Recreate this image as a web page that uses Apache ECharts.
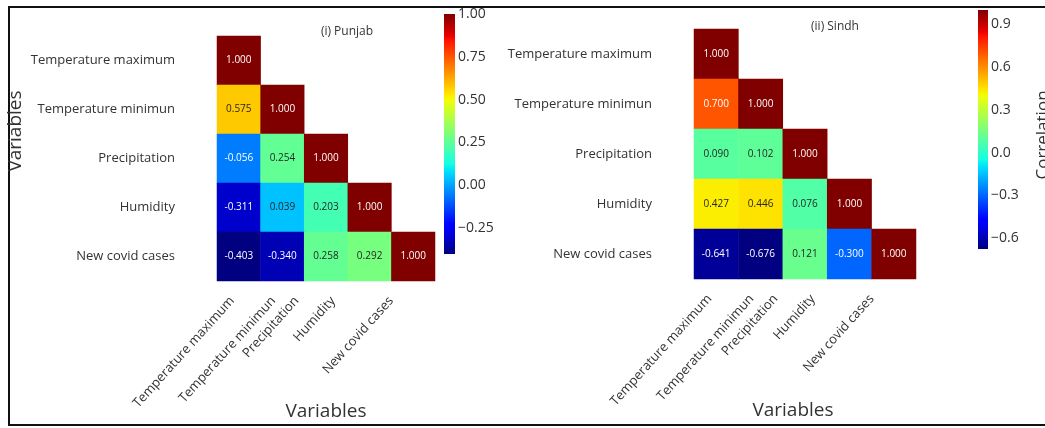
<!DOCTYPE html>
<html>
<head>
<meta charset="utf-8">
<script src="https://cdn.jsdelivr.net/npm/echarts@6/dist/echarts.min.js"></script>
<style>
html,body{margin:0;padding:0;background:#fff;}
#chart{width:1045px;height:428px;}
</style>
</head>
<body>
<div id="chart"></div>
<script>
// ---- data ----
const variables = ['Temperature maximum', 'Temperature minimun', 'Precipitation', 'Humidity', 'New covid cases'];
const punjabTitle = '(i) Punjab';
const sindhTitle = '(ii) Sindh';
// lower-triangle correlation rows (row i has i+1 values)
const punjabRows = [
  [1.000],
  [0.575, 1.000],
  [-0.056, 0.254, 1.000],
  [-0.311, 0.039, 0.203, 1.000],
  [-0.403, -0.340, 0.258, 0.292, 1.000]
];
const sindhRows = [
  [1.000],
  [0.700, 1.000],
  [0.090, 0.102, 1.000],
  [0.427, 0.446, 0.076, 1.000],
  [-0.641, -0.676, 0.121, -0.300, 1.000]
];
const punjabTicks = [-0.25, 0.00, 0.25, 0.50, 0.75, 1.00];
const sindhTicks = [-0.6, -0.3, 0.0, 0.3, 0.6, 0.9];
const axisTitle = 'Variables';
const cbarTitle = 'Correlation';

// ---- jet colormap (matplotlib) ----
const jetR = [[0,0],[0.35,0],[0.66,1],[0.89,1],[1,0.5]];
const jetG = [[0,0],[0.125,0],[0.375,1],[0.64,1],[0.91,0],[1,0]];
const jetB = [[0,0.5],[0.11,1],[0.34,1],[0.65,0],[1,0]];
function seg(pts, t){
  for (let i = 0; i < pts.length - 1; i++) {
    const a = pts[i], b = pts[i+1];
    if (t <= b[0]) return a[1] + (b[1]-a[1]) * (t - a[0]) / (b[0]-a[0]);
  }
  return pts[pts.length-1][1];
}
function jetRGB(t){ t = Math.max(0, Math.min(1, t)); return [seg(jetR,t), seg(jetG,t), seg(jetB,t)]; }
function toHex(c){ return '#' + c.map(v => Math.round(v*255).toString(16).padStart(2,'0')).join(''); }
const N = 64;
const jetColors = [];
for (let i = 0; i <= N; i++) jetColors.push(toHex(jetRGB(i/N)));
const jetStops = jetColors.map((c, i) => ({offset: i/N, color: c}));

function lum(c){
  const l = c.map(v => v <= 0.03928 ? v/12.92 : Math.pow((v+0.055)/1.055, 2.4));
  return 0.2126*l[0] + 0.7152*l[1] + 0.0722*l[2];
}

function buildCells(rows){
  const vals = rows.flat();
  const mn = Math.min(...vals), mx = Math.max(...vals);
  const data = [];
  rows.forEach((r, i) => r.forEach((v, j) => {
    const c = jetRGB((v - mn) / (mx - mn));
    data.push({value: [j, i, v], label: {color: lum(c) < 0.408 ? '#ffffff' : '#262626'}});
  }));
  return {data, mn, mx};
}
const P = buildCells(punjabRows);
const S = buildCells(sindhRows);

const FONT = '"Open Sans", "DejaVu Sans", sans-serif';
const txt = '#333333';

// x tick labels: rotated, bounding box centred a fixed distance left of the tick (as in the source figure)
const ROT = 48, LBL_FS = 13, LBL_H = 13, BOX_SHIFT = 55;
const measureCtx = document.createElement('canvas').getContext('2d');
measureCtx.font = LBL_FS + 'px ' + FONT;
const cs = Math.cos(ROT*Math.PI/180), sn = Math.sin(ROT*Math.PI/180);
const xRich = {};
variables.forEach((v, i) => {
  const L = measureCtx.measureText(v).width;
  const d = Math.max(0, BOX_SHIFT - LBL_H*sn/2 - L*cs/2);
  xRich['p' + i] = {fontSize:LBL_FS, fontFamily:FONT, color:txt, padding:[0, d*cs, d*sn, 0]};
});

function catX(gi){
  return {type:'category', gridIndex:gi, data:variables,
    axisLine:{show:false}, axisTick:{show:false}, splitLine:{show:false},
    axisLabel:{rotate:ROT, interval:0, fontSize:LBL_FS, color:txt, fontFamily:FONT, margin:22,
      align:'right', verticalAlign:'bottom',
      formatter:(v, i) => '{p' + i + '|' + v + '}', rich:xRich}};
}
function catY(gi){
  return {type:'category', gridIndex:gi, data:variables, inverse:true,
    axisLine:{show:false}, axisTick:{show:false}, splitLine:{show:false},
    axisLabel:{interval:0, fontSize:13, color:txt, fontFamily:FONT, margin:42}};
}
function cbX(gi){
  return {type:'value', gridIndex:gi, min:0, max:1, show:false};
}
function cbY(gi, mn, mx, ticks, dec){
  return {type:'value', gridIndex:gi, min:mn, max:mx, position:'right',
    axisLine:{show:false}, splitLine:{show:false},
    axisTick:{show:true, length:4, customValues:ticks, lineStyle:{color:txt, width:1}},
    axisLabel:{customValues:ticks, fontSize:14, color:txt, fontFamily:FONT, margin:3,
      formatter: v => (v < 0 ? '\u2212' : '') + Math.abs(v).toFixed(dec)}};
}
function cbSeries(gi, mn, mx){
  return {type:'line', xAxisIndex:gi, yAxisIndex:gi, data:[[0, mn]], showSymbol:false, symbolSize:0,
    lineStyle:{opacity:0}, silent:true,
    markArea:{silent:true, label:{show:false},
      itemStyle:{color:new echarts.graphic.LinearGradient(0,1,0,0, jetStops)},
      data:[[{yAxis:mn},{yAxis:mx}]]}};
}
function hmSeries(gi, cells){
  return {type:'heatmap', xAxisIndex:gi, yAxisIndex:gi, data:cells.data,
    label:{show:true, fontSize:10, fontFamily:FONT, formatter: p => p.value[2].toFixed(3)},
    emphasis:{disabled:true}, itemStyle:{borderWidth:0}};
}

const chart = echarts.init(document.getElementById('chart'), null, {renderer:'canvas'});
chart.setOption({
  animation:false,
  backgroundColor:'#ffffff',
  grid:[
    {left:217, top:36, width:218, height:245},
    {left:444, top:14, width:11, height:240},
    {left:694, top:29, width:222, height:250},
    {left:978, top:10, width:10, height:239}
  ],
  xAxis:[catX(0), cbX(1), catX(2), cbX(3)],
  yAxis:[catY(0), cbY(1, P.mn, P.mx, punjabTicks, 2), catY(2), cbY(3, S.mn, S.mx, sindhTicks, 1)],
  visualMap:[
    {type:'continuous', show:false, seriesIndex:0, min:P.mn, max:P.mx, dimension:2, inRange:{color:jetColors}},
    {type:'continuous', show:false, seriesIndex:2, min:S.mn, max:S.mx, dimension:2, inRange:{color:jetColors}}
  ],
  series:[hmSeries(0, P), cbSeries(1, P.mn, P.mx), hmSeries(2, S), cbSeries(3, S.mn, S.mx)],
  graphic:[
    {type:'rect', shape:{x:9, y:7, width:1045, height:418}, style:{fill:null, stroke:'#111', lineWidth:2}, silent:true},
    {type:'text', x:347, y:32, style:{text:punjabTitle, fontSize:12, fontFamily:FONT, fill:txt, textAlign:'center', textVerticalAlign:'middle'}},
    {type:'text', x:835, y:27, style:{text:sindhTitle, fontSize:12, fontFamily:FONT, fill:txt, textAlign:'center', textVerticalAlign:'middle'}},
    {type:'text', x:326, y:412, style:{text:axisTitle, fontSize:19, fontFamily:FONT, fill:txt, textAlign:'center', textVerticalAlign:'middle'}},
    {type:'text', x:793, y:411, style:{text:axisTitle, fontSize:19, fontFamily:FONT, fill:txt, textAlign:'center', textVerticalAlign:'middle'}},
    {type:'text', x:16, y:131, rotation:Math.PI/2, style:{text:axisTitle, fontSize:19, fontFamily:FONT, fill:txt, textAlign:'center', textVerticalAlign:'middle'}},
    {type:'text', x:1043, y:135, rotation:Math.PI/2, style:{text:cbarTitle, fontSize:17, fontFamily:FONT, fill:txt, textAlign:'center', textVerticalAlign:'middle'}}
  ]
});
</script>
</body>
</html>
